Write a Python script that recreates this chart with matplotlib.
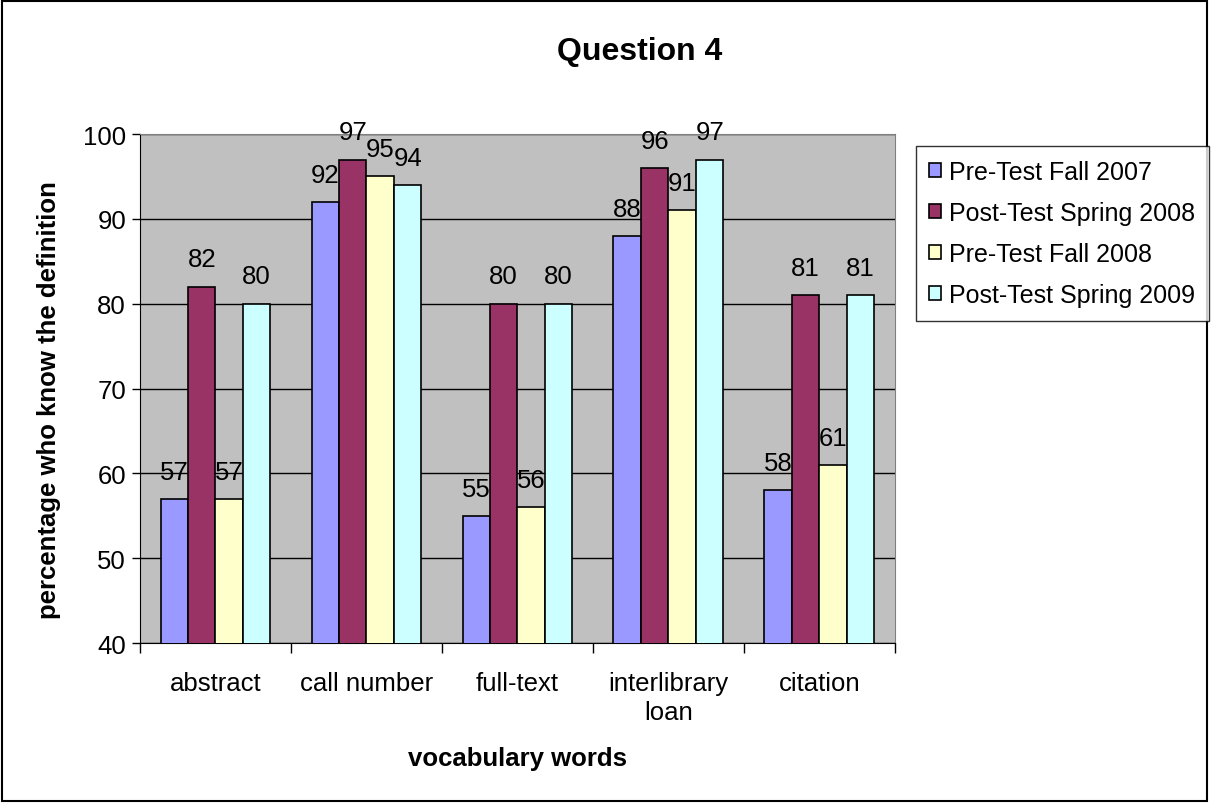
import numpy as np
import matplotlib.pyplot as plt
from matplotlib.patches import Rectangle

plt.rcParams["font.family"] = ["Liberation Sans", "DejaVu Sans"]

categories = ["abstract", "call number", "full-text", "interlibrary\nloan", "citation"]
series_names = ["Pre-Test Fall 2007", "Post-Test Spring 2008", "Pre-Test Fall 2008", "Post-Test Spring 2009"]
pre_2007 = [57, 92, 55, 88, 58]
post_2008 = [82, 97, 80, 96, 81]
pre_2008 = [57, 95, 56, 91, 61]
post_2009 = [80, 94, 80, 97, 81]
colors = ["#9999FF", "#993366", "#FFFFCC", "#CCFFFF"]

data = [pre_2007, post_2008, pre_2008, post_2009]

fig = plt.figure(figsize=(12.11, 8.04), dpi=100)
ax = fig.add_axes([0.1156, 0.199, 0.6234, 0.633])
ax.set_facecolor("#C0C0C0")

x = np.arange(len(categories))
w = 0.182
for i, vals in enumerate(data):
    pos = x + (i - 1.5) * w
    bars = ax.bar(pos, vals, w, bottom=0, color=colors[i], edgecolor="black",
                  linewidth=1.2, label=series_names[i], zorder=3)
    for b, v in zip(bars, vals):
        ax.text(b.get_x() + b.get_width() / 2, v + 1.8, str(v), ha="center",
                va="bottom", fontsize=18.5, zorder=4)

ax.set_ylim(40, 100)
ax.set_xlim(-0.5, len(categories) - 0.5)
ax.set_yticks(range(40, 101, 10))
ax.yaxis.grid(True, color="black", linewidth=1, zorder=1)
ax.set_xticks(x)
ax.set_xticklabels(categories, fontsize=18.5, linespacing=1.25)
ax.set_xticks(np.arange(-0.5, len(categories), 1), minor=True)
ax.tick_params(axis="x", which="major", length=0, pad=20)
ax.tick_params(axis="x", which="minor", length=7, width=1, direction="out")
ax.tick_params(axis="y", labelsize=18.5, length=6, width=1, pad=4)
for s in ["top", "right"]:
    ax.spines[s].set_color("#808080")
for s in ["left", "bottom"]:
    ax.spines[s].set_color("black")

ax.set_ylabel("percentage who know the definition", fontsize=18.5, fontweight="bold")
ax.yaxis.set_label_coords(-0.104, 0.48)
ax.set_xlabel("vocabulary words", fontsize=18.5, fontweight="bold", labelpad=16)
fig.text(0.528, 0.935, "Question 4", ha="center", va="center", fontsize=23, fontweight="bold")

leg = fig.legend(loc="upper left", bbox_to_anchor=(0.756, 0.817), fontsize=18,
                 handlelength=0.45, handleheight=0.45, handletextpad=0.35,
                 labelspacing=0.68, borderpad=0.55, borderaxespad=0,
                 fancybox=False, frameon=True)
leg.get_frame().set_edgecolor("black")
leg.get_frame().set_linewidth(1)
for h in leg.legend_handles:
    h.set_linewidth(1.2)

fig.patches.append(Rectangle((0.002, 0.003), 0.995, 0.994, transform=fig.transFigure,
                             fill=False, edgecolor="black", linewidth=1.5))

fig.savefig("out.png", dpi=100)
